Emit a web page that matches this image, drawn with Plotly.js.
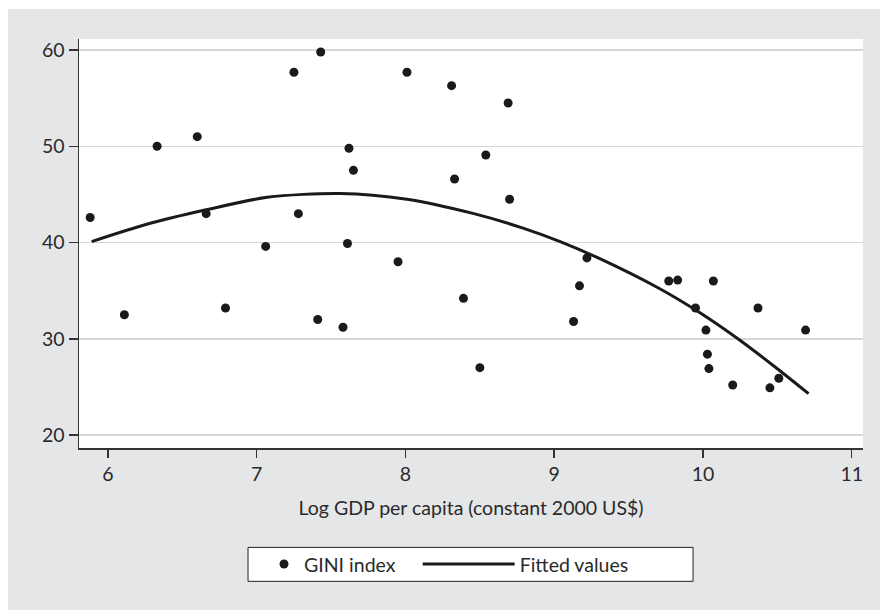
<!DOCTYPE html>
<html>
<head>
<meta charset="utf-8">
<script src="https://cdn.plot.ly/plotly-3.0.1.min.js"></script>
<style>
  html, body { margin: 0; padding: 0; background: #ffffff; width: 880px; height: 610px; overflow: hidden; }
  #chart { position: absolute; left: 8px; top: 9px; width: 872px; height: 601px; }
</style>
</head>
<body>
<div id="chart"></div>
<script>
// Scatter: log GDP per capita vs GINI index
const logGdp = [5.88, 6.11, 6.33, 6.60, 6.66, 6.79, 7.06, 7.25, 7.28, 7.41, 7.43, 7.58, 7.61, 7.62, 7.65,
                7.95, 8.01, 8.31, 8.33, 8.39, 8.50, 8.54, 8.69, 8.70, 9.13, 9.17, 9.22, 9.77, 9.83,
                9.95, 10.02, 10.03, 10.04, 10.07, 10.20, 10.37, 10.45, 10.51, 10.69];
const giniIndex = [42.6, 32.5, 50.0, 51.0, 43.0, 33.2, 39.6, 57.7, 43.0, 32.0, 59.8, 31.2, 39.9, 49.8, 47.5,
                   38.0, 57.7, 56.3, 46.6, 34.2, 27.0, 49.1, 54.5, 44.5, 31.8, 35.5, 38.4, 36.0, 36.1,
                   33.2, 30.9, 28.4, 26.9, 36.0, 25.2, 33.2, 24.9, 25.9, 30.9];

// Fitted values (quadratic fit curve)
const fitX = [5.89, 6.26, 6.66, 7.07, 7.56, 8.01, 8.46, 8.79, 9.04, 9.31, 9.71, 9.98, 10.23, 10.47, 10.71];
const fitY = [40.1, 41.9, 43.4, 44.7, 45.1, 44.5, 43.0, 41.5, 40.1, 38.3, 35.2, 32.7, 30.05, 27.25, 24.3];

const xTicks = [6, 7, 8, 9, 10, 11];
const yTicks = [20, 30, 40, 50, 60];

const FONT = 'Lato, "Open Sans", sans-serif';
const TXT = '#2a2a2a';

const traces = [
  {
    x: logGdp, y: giniIndex, type: 'scatter', mode: 'markers', name: 'GINI index',
    marker: { color: '#1a1a1a', size: 9, line: { width: 0 } },
    legend: 'legend'
  },
  {
    x: fitX, y: fitY, type: 'scatter', mode: 'lines', name: 'Fitted values',
    line: { color: '#1a1a1a', width: 3, shape: 'spline', smoothing: 0.8 },
    legend: 'legend2'
  }
];

const legendCommon = {
  orientation: 'h',
  yanchor: 'middle', y: -0.2845,
  xanchor: 'left',
  bgcolor: 'rgba(0,0,0,0)', borderwidth: 0,
  font: { family: FONT, size: 19.5, color: TXT }
};

const layout = {
  width: 872, height: 601,
  paper_bgcolor: '#e5e6e8',
  plot_bgcolor: '#ffffff',
  margin: { l: 71, r: 17, t: 30, b: 161.5 },
  font: { family: FONT, size: 19.5, color: TXT },
  showlegend: true,
  xaxis: {
    range: [5.805, 11.076],
    tickvals: xTicks, ticktext: xTicks.map(String),
    showgrid: false, zeroline: false,
    showline: true, linecolor: '#333333', linewidth: 1.5,
    ticks: 'outside', ticklen: 8, tickcolor: '#333333', tickwidth: 1.5,
    tickfont: { family: FONT, size: 19.5, color: TXT },
    title: { text: 'Log GDP per capita (constant 2000 US$)', font: { family: FONT, size: 19.5, color: TXT }, standoff: 17 }
  },
  yaxis: {
    range: [18.65, 61.15],
    tickvals: yTicks, ticktext: yTicks.map(String),
    showgrid: true, gridcolor: '#d6d6d6', gridwidth: 1.5,
    zeroline: false,
    showline: true, linecolor: '#333333', linewidth: 1.5,
    ticks: 'outside', ticklen: 9, tickcolor: '#333333', tickwidth: 1.5,
    tickfont: { family: FONT, size: 19.5, color: TXT }
  },
  legend: Object.assign({}, legendCommon, { x: 0.236, itemwidth: 30 }),
  legend2: Object.assign({}, legendCommon, { x: 0.432, itemwidth: 92 }),
  shapes: [
    {
      type: 'rect', xref: 'paper', yref: 'paper', layer: 'below',
      x0: 0.2156, x1: 0.7832, y0: -0.326, y1: -0.243,
      fillcolor: '#ffffff', line: { color: '#222222', width: 1 }
    }
  ]
};

Plotly.newPlot('chart', traces, layout, { displayModeBar: false, staticPlot: true });
</script>
</body>
</html>
